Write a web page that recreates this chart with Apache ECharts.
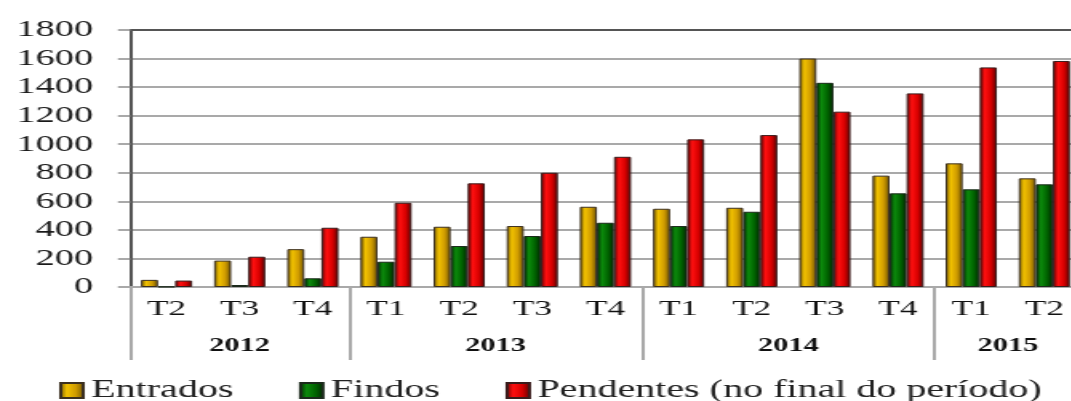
<!DOCTYPE html>
<html>
<head>
<meta charset="utf-8">
<script src="https://cdn.jsdelivr.net/npm/echarts@6/dist/echarts.min.js"></script>
<style>
  html, body { margin: 0; padding: 0; overflow: hidden; background: #fff; }
  /* the source picture is stretched sideways, so the chart is drawn narrow and widened */
  #chart { width: 681px; height: 401px; transform: scaleX(1.6); transform-origin: 0 0; }
</style>
</head>
<body>
<div id="chart"></div>
<script>
var quarters = ['T2', 'T3', 'T4', 'T1', 'T2', 'T3', 'T4', 'T1', 'T2', 'T3', 'T4', 'T1', 'T2'];
var years = ['2012', '2013', '2014', '2015'];
var yearSpans = [3, 4, 4, 2];

var entrados = [50, 185, 265, 352, 422, 427, 562, 548, 555, 1600, 780, 866, 761];
var findos = [2, 14, 61, 177, 287, 357, 450, 427, 527, 1430, 656, 684, 719];
var pendentes = [45, 212, 415, 590, 726, 800, 912, 1034, 1064, 1228, 1356, 1538, 1583];

var serif = '"Liberation Serif", "DejaVu Serif", serif';

// year axis: half-category points, label in the middle of each year, tick at each edge
var yearData = [];
var yearLabelAt = {};
var yearTickAt = {0: true};
var pos = 0;
for (var i = 0; i <= quarters.length * 2; i++) yearData.push('');
for (var k = 0; k < years.length; k++) {
    var mid = pos * 2 + yearSpans[k];
    yearData[mid] = years[k];
    yearLabelAt[mid] = true;
    pos += yearSpans[k];
    yearTickAt[pos * 2] = true;
}

function barColor(dark, light, mid) {
    return new echarts.graphic.LinearGradient(0, 0, 1, 0, [
        {offset: 0, color: dark},
        {offset: 0.3, color: light},
        {offset: 0.65, color: mid},
        {offset: 1, color: dark}
    ]);
}

var chart = echarts.init(document.getElementById('chart'));

var gridColors = [];
for (var g = 0; g < 9; g++) gridColors.push('#a9a9a9');
gridColors.push('#555555');

option = {
    backgroundColor: '#ffffff',
    animation: false,
    textStyle: { fontFamily: serif },
    grid: { left: 81.25, right: 5.4, top: 30, bottom: 114 },
    legend: {
        left: 37,
        top: 378,
        padding: 0,
        itemWidth: 14,
        itemHeight: 15,
        itemGap: 41,
        textStyle: { fontFamily: serif, fontSize: 25, color: '#222' },
        data: [
            {name: 'Entrados', icon: 'rect'},
            {name: 'Findos', icon: 'rect'},
            {name: 'Pendentes (no final do período)', icon: 'rect'}
        ]
    },
    xAxis: [
        {
            type: 'category',
            position: 'bottom',
            data: quarters,
            axisLine: { lineStyle: { color: '#a9a9a9', width: 2 } },
            axisTick: { length: 36, lineStyle: { color: '#a9a9a9', width: 2 } },
            axisLabel: { margin: 11, fontFamily: serif, fontSize: 22, color: '#111' }
        },
        {
            type: 'category',
            position: 'bottom',
            boundaryGap: false,
            data: yearData,
            axisLine: { show: false },
            axisTick: {
                length: 73,
                interval: function (idx) { return !!yearTickAt[idx]; },
                lineStyle: { color: '#a9a9a9', width: 2 }
            },
            axisLabel: {
                margin: 50,
                interval: function (idx) { return !!yearLabelAt[idx]; },
                fontFamily: serif, fontSize: 19, fontWeight: 'bold', color: '#111'
            }
        }
    ],
    yAxis: {
        type: 'value',
        min: 0,
        max: 1800,
        interval: 200,
        axisLine: { show: true, lineStyle: { color: '#555', width: 2 } },
        axisTick: { show: true, length: 7.5, lineStyle: { color: '#a9a9a9', width: 2 } },
        axisLabel: {
            margin: 23,
            fontFamily: serif, fontSize: 24, color: '#1a1a1a',
            formatter: function (v) { return String(v); }
        },
        splitLine: { lineStyle: { color: gridColors, width: 2 } }
    },
    series: [
        {
            name: 'Entrados',
            type: 'bar',
            xAxisIndex: 0,
            barGap: '0%',
            barCategoryGap: '30%',
            itemStyle: {
                color: barColor('#6e5200', '#f2c200', '#d09c00'),
                borderColor: '#3c3020',
                borderWidth: 1
            },
            data: entrados
        },
        {
            name: 'Findos',
            type: 'bar',
            xAxisIndex: 0,
            barGap: '0%',
            barCategoryGap: '30%',
            itemStyle: {
                color: barColor('#002400', '#0c8a0c', '#006400'),
                borderColor: '#1c2a1c',
                borderWidth: 1
            },
            data: findos
        },
        {
            name: 'Pendentes (no final do período)',
            type: 'bar',
            xAxisIndex: 0,
            barGap: '0%',
            barCategoryGap: '30%',
            itemStyle: {
                color: barColor('#5a0000', '#ff1010', '#d80000'),
                borderColor: '#3a1c1c',
                borderWidth: 1
            },
            data: pendentes
        }
    ]
};
chart.setOption(option);
</script>
</body>
</html>
